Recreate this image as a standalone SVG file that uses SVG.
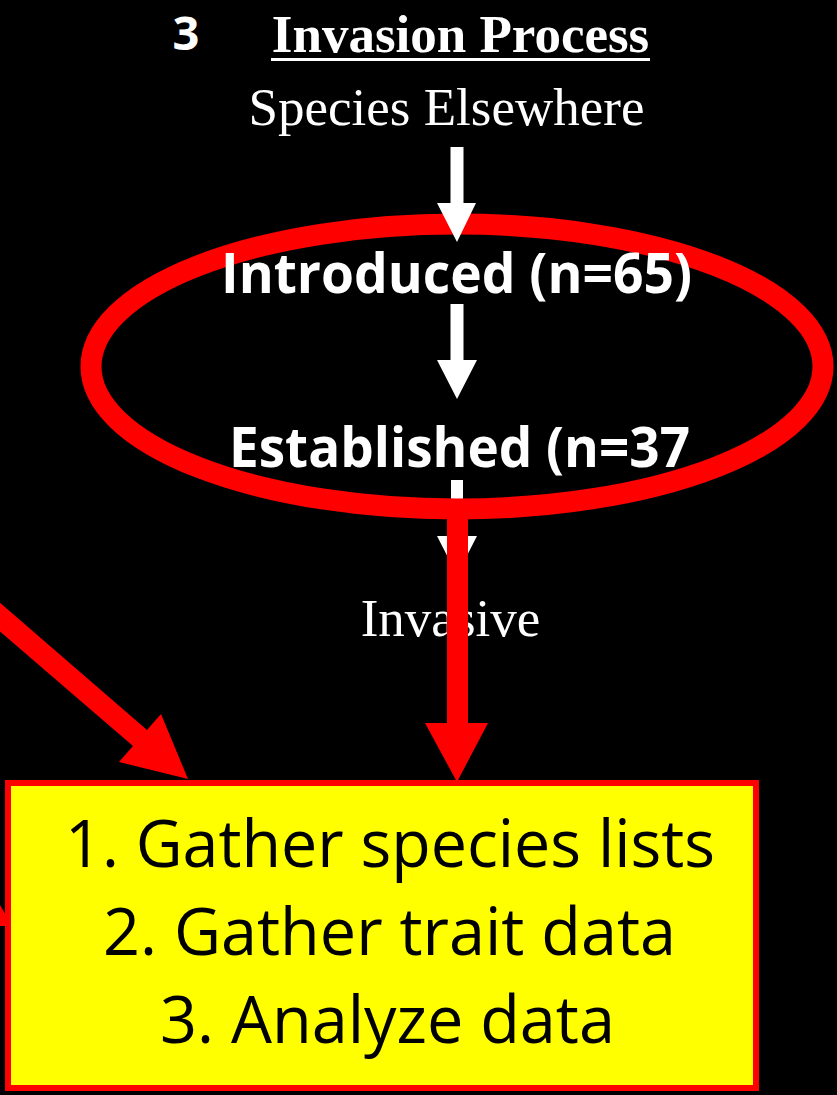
<svg xmlns="http://www.w3.org/2000/svg" width="837" height="1095" viewBox="0 0 837 1095">
<style>
.serif{font-family:"Liberation Serif","Times New Roman",serif;fill:#fff;font-size:53px}
.calb{font-family:"Open Sans","Noto Sans",sans-serif;font-weight:bold;fill:#fff}
.box{font-family:"Open Sans","Noto Sans",sans-serif;fill:#000;font-size:65px}
.warrow{fill:#fff}
.rarrow{fill:#f00}
</style>
<rect x="0" y="0" width="837" height="1095" fill="#000"/>
<g id="connectors">
  <polygon class="warrow" points="451,480 463,480 463,536 477,536 457,575 437,536 451,536"/>
</g>
<g id="scope-ellipse">
  <ellipse cx="457" cy="366.5" rx="366" ry="142.5" fill="none" stroke="#f00" stroke-width="21"/>
</g>
<g id="connectors-upper">
  <polygon class="warrow" points="450.5,147 463.5,147 463.5,203 476,203 457,242 437,203 450.5,203"/>
  <polygon class="warrow" points="450.5,304 463.5,304 463.5,360 477,360 457,399 437,360 450.5,360"/>
</g>
<g id="title">
  <text class="calb" x="186" y="50" font-size="47" text-anchor="middle">3</text>
  <text x="460.5" y="52" font-family="Liberation Serif, Times New Roman, serif" font-weight="bold" font-size="53" fill="#fff" text-anchor="middle">Invasion Process</text>
  <rect x="271" y="58" width="379" height="3" fill="#fff"/>
</g>
<g id="species-elsewhere">
  <text class="serif" x="446.5" y="125" text-anchor="middle">Species Elsewhere</text>
</g>
<g id="introduced">
  <text class="calb" x="221" y="293" font-size="56" textLength="471" lengthAdjust="spacingAndGlyphs">Introduced (n=65)</text>
</g>
<g id="established">
  <text class="calb" x="229" y="467" font-size="56" textLength="461" lengthAdjust="spacingAndGlyphs">Established (n=37</text>
</g>
<g id="invasive">
  <text class="serif" x="450.5" y="636" text-anchor="middle">Invasive</text>
</g>
<g id="red-arrows">
  <polygon class="rarrow" points="447,500 468,500 468,723 488,723 457,782 425,723 447,723"/>
  <polygon class="rarrow" points="-10,594 147,730 161,714 188,779 119,762 133,746 -10,623"/>
  <polygon class="rarrow" points="0,905 12,926 0,926"/>
</g>
<g id="steps-box">
  <rect x="8" y="783" width="748" height="305" fill="#ff0" stroke="#f00" stroke-width="6"/>
  <text class="box" x="65" y="867" textLength="650" lengthAdjust="spacingAndGlyphs">1. Gather species lists</text>
  <text class="box" x="103" y="955" textLength="573" lengthAdjust="spacingAndGlyphs">2. Gather trait data</text>
  <text class="box" x="160" y="1043" textLength="455" lengthAdjust="spacingAndGlyphs">3. Analyze data</text>
</g>
</svg>
